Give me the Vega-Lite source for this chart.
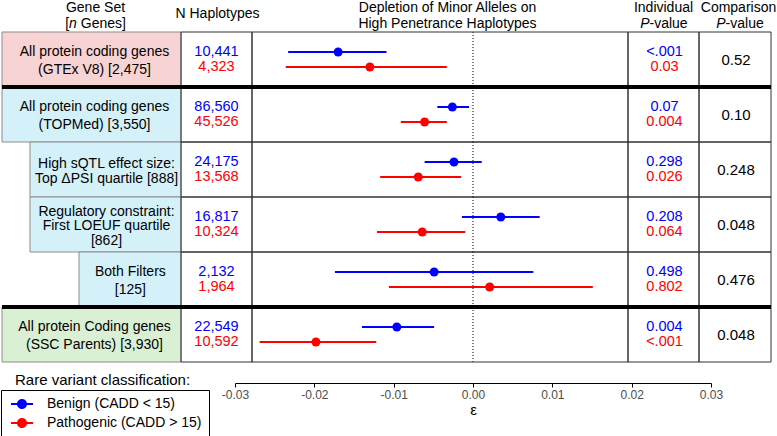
{
  "$schema": "https://vega.github.io/schema/vega-lite/v6.json",
  "width": 777,
  "height": 436,
  "autosize": "none",
  "padding": 0,
  "background": "white",
  "config": {"view": {"stroke": null}, "font": "Liberation Sans"},
  "title": {"text": "Rare variant classification:", "orient": "bottom", "anchor": "start", "frame": "group", "offset": -58, "dx": 15, "baseline": "middle", "fontSize": 15, "fontWeight": "normal", "color": "black", "font": "Liberation Sans"},
  "datasets": {
    "rows": [
      {"set": "GTEx", "label": "All protein coding genes\n(GTEx V8) [2,475]", "level": 0, "cohort": "GTEx", "pcomp": "0.52"},
      {"set": "TOPMed", "label": "All protein coding genes\n(TOPMed) [3,550]", "level": 0, "cohort": "TOPMed", "pcomp": "0.10"},
      {"set": "sQTL", "label": "High sQTL effect size:\nTop ΔPSI quartile [888]", "level": 1, "cohort": "TOPMed", "pcomp": "0.248"},
      {"set": "LOEUF", "label": "Regulatory constraint:\nFirst LOEUF quartile\n[862]", "level": 1, "cohort": "TOPMed", "pcomp": "0.048"},
      {"set": "Both", "label": "Both Filters\n[125]", "level": 2, "cohort": "TOPMed", "pcomp": "0.476"},
      {"set": "SSC", "label": "All protein Coding genes\n(SSC Parents) [3,930]", "level": 0, "cohort": "SSC", "pcomp": "0.048"}
    ],
    "est": [
      {"set": "GTEx", "series": "Benign (CADD < 15)", "est": -0.0170, "lo": -0.0233, "hi": -0.0109, "n": "10,441", "p": "<.001"},
      {"set": "GTEx", "series": "Pathogenic (CADD > 15)", "est": -0.0130, "lo": -0.0236, "hi": -0.0033, "n": "4,323", "p": "0.03"},
      {"set": "TOPMed", "series": "Benign (CADD < 15)", "est": -0.0026, "lo": -0.0045, "hi": -0.0005, "n": "86,560", "p": "0.07"},
      {"set": "TOPMed", "series": "Pathogenic (CADD > 15)", "est": -0.0061, "lo": -0.0091, "hi": -0.0033, "n": "45,526", "p": "0.004"},
      {"set": "sQTL", "series": "Benign (CADD < 15)", "est": -0.0024, "lo": -0.0061, "hi": 0.0011, "n": "24,175", "p": "0.298"},
      {"set": "sQTL", "series": "Pathogenic (CADD > 15)", "est": -0.0069, "lo": -0.0117, "hi": -0.0015, "n": "13,568", "p": "0.026"},
      {"set": "LOEUF", "series": "Benign (CADD < 15)", "est": 0.0035, "lo": -0.0014, "hi": 0.0084, "n": "16,817", "p": "0.208"},
      {"set": "LOEUF", "series": "Pathogenic (CADD > 15)", "est": -0.0064, "lo": -0.0121, "hi": -0.0010, "n": "10,324", "p": "0.064"},
      {"set": "Both", "series": "Benign (CADD < 15)", "est": -0.0049, "lo": -0.0174, "hi": 0.0076, "n": "2,132", "p": "0.498"},
      {"set": "Both", "series": "Pathogenic (CADD > 15)", "est": 0.0021, "lo": -0.0106, "hi": 0.0151, "n": "1,964", "p": "0.802"},
      {"set": "SSC", "series": "Benign (CADD < 15)", "est": -0.0096, "lo": -0.0140, "hi": -0.0049, "n": "22,549", "p": "0.004"},
      {"set": "SSC", "series": "Pathogenic (CADD > 15)", "est": -0.0198, "lo": -0.0269, "hi": -0.0122, "n": "10,592", "p": "<.001"}
    ],
    "headers": [
      {"id": "gene1", "line": "l1", "text": "Gene Set"},
      {"id": "gene2a", "line": "l2", "text": "["},
      {"id": "gene2b", "line": "l2", "text": "n"},
      {"id": "gene2c", "line": "l2", "text": "Genes]"},
      {"id": "nhap", "line": "mid", "text": "N Haplotypes"},
      {"id": "dep1", "line": "l1", "text": "Depletion of Minor Alleles on"},
      {"id": "dep2", "line": "l2", "text": "High Penetrance Haplotypes"},
      {"id": "ind1", "line": "l1", "text": "Individual"},
      {"id": "ind2a", "line": "l2", "text": "P"},
      {"id": "ind2b", "line": "l2", "text": "-value"},
      {"id": "cmp1", "line": "l1", "text": "Comparison"},
      {"id": "cmp2a", "line": "l2", "text": "P"},
      {"id": "cmp2b", "line": "l2", "text": "-value"}
    ]
  },
  "layer": [
    {
      "layer": [
        {
          "data": {"name": "rows"},
          "mark": {"type": "rule", "color": "black", "strokeWidth": 1, "strokeDash": [1, 2]},
          "encoding": {
            "x": {"datum": 0, "scale": {"domain": [-0.03, 0.03], "range": [235, 711], "nice": false, "zero": false},
              "axis": {"title": "ε", "orient": "bottom", "offset": -53, "values": [-0.03, -0.02, -0.01, 0, 0.01, 0.02, 0.03], "labelExpr": "datum.value < 0 ? '-' + format(-datum.value, '.2f') : format(datum.value, '.2f')", "grid": false, "domainColor": "black", "domainWidth": 1, "tickColor": "black", "tickSize": 4, "labelColor": "#4d4d4d", "labelFontSize": 12, "labelFont": "Liberation Sans", "labelPadding": 2, "labelFlush": false, "labelOverlap": false, "titleFontSize": 15, "titleFontWeight": "normal", "titleColor": "black", "titleFont": "Liberation Sans", "titlePadding": 2}},
            "y": {"field": "set", "type": "nominal", "bandPosition": 0, "scale": {"domain": ["GTEx", "TOPMed", "sQTL", "LOEUF", "Both", "SSC"], "range": [32, 362], "paddingInner": 0, "paddingOuter": 0}, "axis": null},
            "y2": {"field": "set", "bandPosition": 1}
          }
        },
        {
          "data": {"name": "est"},
          "mark": {"type": "rule", "strokeWidth": 2},
          "encoding": {
            "x": {"field": "lo", "type": "quantitative", "title": "ε",
              "axis": {"title": "ε", "orient": "bottom", "offset": -53, "values": [-0.03, -0.02, -0.01, 0, 0.01, 0.02, 0.03], "labelExpr": "datum.value < 0 ? '-' + format(-datum.value, '.2f') : format(datum.value, '.2f')", "grid": false, "domainColor": "black", "domainWidth": 1, "tickColor": "black", "tickSize": 4, "labelColor": "#4d4d4d", "labelFontSize": 12, "labelFont": "Liberation Sans", "labelPadding": 2, "labelFlush": false, "labelOverlap": false, "titleFontSize": 15, "titleFontWeight": "normal", "titleColor": "black", "titleFont": "Liberation Sans", "titlePadding": 2}},
            "x2": {"field": "hi"},
            "y": {"field": "set", "type": "nominal", "axis": null},
            "yOffset": {"field": "series", "type": "nominal", "scale": {"domain": ["Benign (CADD < 15)", "Pathogenic (CADD > 15)"], "paddingInner": 0, "paddingOuter": 0.8333}},
            "stroke": {"field": "series", "type": "nominal", "scale": {"domain": ["Benign (CADD < 15)", "Pathogenic (CADD > 15)"], "range": ["#0000ff", "#ff0000"]},
              "legend": {"orient": "none", "legendX": 1, "legendY": 390, "title": null, "strokeColor": "black", "fillColor": "white", "padding": 7, "labelFontSize": 14, "labelFont": "Liberation Sans", "labelColor": "black", "symbolType": "M-1.6,-0.15H1.6V0.15H-1.6Z M-0.73,0A0.73,0.73,0,1,1,0.73,0A0.73,0.73,0,1,1,-0.73,0Z", "symbolSize": 189, "symbolStrokeWidth": 0, "symbolOffset": 7, "labelOffset": 18, "rowPadding": 5}}
          }
        },
        {
          "data": {"name": "est"},
          "mark": {"type": "point", "filled": true, "size": 80, "strokeWidth": 0, "opacity": 1},
          "encoding": {
            "x": {"field": "est", "type": "quantitative", "title": "ε",
              "axis": {"title": "ε", "orient": "bottom", "offset": -53, "values": [-0.03, -0.02, -0.01, 0, 0.01, 0.02, 0.03], "labelExpr": "datum.value < 0 ? '-' + format(-datum.value, '.2f') : format(datum.value, '.2f')", "grid": false, "domainColor": "black", "domainWidth": 1, "tickColor": "black", "tickSize": 4, "labelColor": "#4d4d4d", "labelFontSize": 12, "labelFont": "Liberation Sans", "labelPadding": 2, "labelFlush": false, "labelOverlap": false, "titleFontSize": 15, "titleFontWeight": "normal", "titleColor": "black", "titleFont": "Liberation Sans", "titlePadding": 2}},
            "y": {"field": "set", "type": "nominal", "axis": null},
            "yOffset": {"field": "series", "type": "nominal"},
            "fill": {"field": "series", "type": "nominal", "scale": {"domain": ["Benign (CADD < 15)", "Pathogenic (CADD > 15)"], "range": ["#0000ff", "#ff0000"]},
              "legend": {"orient": "none", "legendX": 1, "legendY": 390, "title": null, "strokeColor": "black", "fillColor": "white", "padding": 7, "labelFontSize": 14, "labelFont": "Liberation Sans", "labelColor": "black", "symbolType": "M-1.6,-0.15H1.6V0.15H-1.6Z M-0.73,0A0.73,0.73,0,1,1,0.73,0A0.73,0.73,0,1,1,-0.73,0Z", "symbolSize": 189, "symbolStrokeWidth": 0, "symbolOffset": 7, "labelOffset": 18, "rowPadding": 5}}
          }
        }
      ]
    },
    {
      "layer": [
        {
          "layer": [
            {
              "data": {"name": "rows"},
              "mark": {"type": "rect", "stroke": "#8c8c8c", "strokeWidth": 1},
              "encoding": {
                "x": {"field": "level", "type": "quantitative", "scale": {"domain": [0, 1, 2, 3, 4, 5, 6, 7], "range": [2, 30, 79, 181, 252, 628, 699, 771], "nice": false, "zero": false}, "axis": null},
                "x2": {"datum": 3},
                "y": {"field": "set", "type": "nominal", "scale": {"domain": ["GTEx", "TOPMed", "sQTL", "LOEUF", "Both", "SSC"], "range": [32, 362], "paddingInner": 0, "paddingOuter": 0}, "axis": null},
                "color": {"field": "cohort", "type": "nominal", "scale": {"domain": ["GTEx", "TOPMed", "SSC"], "range": ["#f8d3d3", "#d4f1fa", "#d9f0d4"]}, "legend": null}
              }
            },
            {
              "data": {"name": "rows"},
              "mark": {"type": "rect", "fillOpacity": 0, "stroke": "#333333", "strokeWidth": 1},
              "encoding": {"x": {"datum": 3, "axis": null}, "x2": {"datum": 4}, "y": {"field": "set", "type": "nominal", "axis": null}}
            },
            {
              "data": {"name": "rows"},
              "mark": {"type": "rect", "fillOpacity": 0, "stroke": "#333333", "strokeWidth": 1},
              "encoding": {"x": {"datum": 4, "axis": null}, "x2": {"datum": 5}, "y": {"field": "set", "type": "nominal", "axis": null}}
            },
            {
              "data": {"name": "rows"},
              "mark": {"type": "rect", "fillOpacity": 0, "stroke": "#333333", "strokeWidth": 1},
              "encoding": {"x": {"datum": 5, "axis": null}, "x2": {"datum": 6}, "y": {"field": "set", "type": "nominal", "axis": null}}
            },
            {
              "data": {"name": "rows"},
              "mark": {"type": "rect", "fillOpacity": 0, "stroke": "#333333", "strokeWidth": 1},
              "encoding": {"x": {"datum": 6, "axis": null}, "x2": {"datum": 7}, "y": {"field": "set", "type": "nominal", "axis": null}}
            },
            {
              "data": {"name": "rows"},
              "transform": [{"filter": {"field": "set", "oneOf": ["TOPMed", "SSC"]}}],
              "mark": {"type": "rule", "color": "black", "strokeWidth": 4},
              "encoding": {"x": {"datum": 0, "axis": null}, "x2": {"datum": 7}, "y": {"field": "set", "type": "nominal", "bandPosition": 0, "axis": null}}
            },
            {
              "data": {"name": "est"},
              "mark": {"type": "text", "fontSize": 14.5},
              "encoding": {
                "x": {"datum": 3.5, "axis": null},
                "y": {"field": "set", "type": "nominal", "axis": null},
                "yOffset": {"field": "series", "type": "nominal"},
                "text": {"field": "n"},
                "fill": {"field": "series", "type": "nominal",
                  "legend": {"orient": "none", "legendX": 1, "legendY": 390, "title": null, "strokeColor": "black", "fillColor": "white", "padding": 7, "labelFontSize": 14, "labelFont": "Liberation Sans", "labelColor": "black", "symbolType": "M-1.6,-0.15H1.6V0.15H-1.6Z M-0.73,0A0.73,0.73,0,1,1,0.73,0A0.73,0.73,0,1,1,-0.73,0Z", "symbolSize": 189, "symbolStrokeWidth": 0, "symbolOffset": 7, "labelOffset": 18, "rowPadding": 5}}
              }
            },
            {
              "data": {"name": "est"},
              "mark": {"type": "text", "fontSize": 14.5, "dx": 1},
              "encoding": {
                "x": {"datum": 5.5, "axis": null},
                "y": {"field": "set", "type": "nominal", "axis": null},
                "yOffset": {"field": "series", "type": "nominal"},
                "text": {"field": "p"},
                "fill": {"field": "series", "type": "nominal",
                  "legend": {"orient": "none", "legendX": 1, "legendY": 390, "title": null, "strokeColor": "black", "fillColor": "white", "padding": 7, "labelFontSize": 14, "labelFont": "Liberation Sans", "labelColor": "black", "symbolType": "M-1.6,-0.15H1.6V0.15H-1.6Z M-0.73,0A0.73,0.73,0,1,1,0.73,0A0.73,0.73,0,1,1,-0.73,0Z", "symbolSize": 189, "symbolStrokeWidth": 0, "symbolOffset": 7, "labelOffset": 18, "rowPadding": 5}}
              }
            },
            {
              "data": {"name": "rows"},
              "mark": {"type": "text", "fontSize": 15, "dx": 1, "color": "black"},
              "encoding": {
                "x": {"datum": 6.5, "axis": null},
                "y": {"field": "set", "type": "nominal", "axis": null},
                "text": {"field": "pcomp"}
              }
            }
          ]
        },
        {
          "data": {"name": "headers"},
          "encoding": {
            "y": {"field": "line", "type": "nominal", "scale": {"domain": ["l1", "mid", "l2"], "range": [3.4, 28.1], "paddingInner": 0, "paddingOuter": 0}, "axis": null},
            "text": {"field": "text"}
          },
          "layer": [
            {"transform": [{"filter": {"field": "id", "equal": "nhap"}}], "mark": {"type": "text", "fontSize": 14, "dx": 1, "dy": -1.5, "color": "black"}, "encoding": {"x": {"datum": 3.5, "axis": null}}},
            {"transform": [{"filter": {"field": "id", "oneOf": ["dep1", "dep2"]}}], "mark": {"type": "text", "fontSize": 14, "dx": 7.5, "color": "black"}, "encoding": {"x": {"datum": 4.5, "axis": null}}},
            {"transform": [{"filter": {"field": "id", "equal": "ind1"}}], "mark": {"type": "text", "fontSize": 14, "color": "black"}, "encoding": {"x": {"datum": 5.5, "axis": null}}},
            {"transform": [{"filter": {"field": "id", "equal": "ind2a"}}], "mark": {"type": "text", "fontSize": 14, "fontStyle": "italic", "align": "right", "dx": -14, "color": "black"}, "encoding": {"x": {"datum": 5.5, "axis": null}}},
            {"transform": [{"filter": {"field": "id", "equal": "ind2b"}}], "mark": {"type": "text", "fontSize": 14, "align": "left", "dx": -14, "color": "black"}, "encoding": {"x": {"datum": 5.5, "axis": null}}},
            {"transform": [{"filter": {"field": "id", "equal": "cmp1"}}], "mark": {"type": "text", "fontSize": 14, "dx": 3.5, "color": "black"}, "encoding": {"x": {"datum": 6.5, "axis": null}}},
            {"transform": [{"filter": {"field": "id", "equal": "cmp2a"}}], "mark": {"type": "text", "fontSize": 14, "fontStyle": "italic", "align": "right", "dx": -9.4, "color": "black"}, "encoding": {"x": {"datum": 6.5, "axis": null}}},
            {"transform": [{"filter": {"field": "id", "equal": "cmp2b"}}], "mark": {"type": "text", "fontSize": 14, "align": "left", "dx": -9.4, "color": "black"}, "encoding": {"x": {"datum": 6.5, "axis": null}}}
          ]
        }
      ],
      "resolve": {"scale": {"y": "independent"}}
    },
    {
      "layer": [
        {
          "data": {"name": "rows"},
          "encoding": {
            "x": {"field": "level", "type": "quantitative", "scale": {"domain": [0, 1, 2], "range": [94.5, 106.5, 130.4], "nice": false, "zero": false}, "axis": null},
            "y": {"field": "set", "type": "nominal", "scale": {"domain": ["GTEx", "TOPMed", "sQTL", "LOEUF", "Both", "SSC"], "range": [32, 362], "paddingInner": 0, "paddingOuter": 0}, "axis": null},
            "text": {"field": "label"}
          },
          "layer": [
            {"transform": [{"filter": {"field": "set", "oneOf": ["GTEx", "TOPMed", "Both", "SSC"]}}], "mark": {"type": "text", "fontSize": 14, "lineBreak": "\n", "lineHeight": 17.5, "dy": -7.25, "color": "black"}},
            {"transform": [{"filter": {"field": "set", "equal": "sQTL"}}], "mark": {"type": "text", "fontSize": 14, "lineBreak": "\n", "lineHeight": 15, "dy": -5.5, "color": "black"}},
            {"transform": [{"filter": {"field": "set", "equal": "LOEUF"}}], "mark": {"type": "text", "fontSize": 14, "lineBreak": "\n", "lineHeight": 14.6, "dy": -13, "color": "black"}}
          ]
        },
        {
          "data": {"name": "headers"},
          "encoding": {
            "y": {"field": "line", "type": "nominal", "scale": {"domain": ["l1", "mid", "l2"], "range": [3.4, 28.1], "paddingInner": 0, "paddingOuter": 0}, "axis": null},
            "text": {"field": "text"}
          },
          "layer": [
            {"transform": [{"filter": {"field": "id", "equal": "gene1"}}], "mark": {"type": "text", "fontSize": 14, "dx": 1, "color": "black"}, "encoding": {"x": {"datum": 0, "axis": null}}},
            {"transform": [{"filter": {"field": "id", "equal": "gene2a"}}], "mark": {"type": "text", "fontSize": 14, "align": "right", "dx": -25.45, "color": "black"}, "encoding": {"x": {"datum": 0, "axis": null}}},
            {"transform": [{"filter": {"field": "id", "equal": "gene2b"}}], "mark": {"type": "text", "fontSize": 14, "fontStyle": "italic", "align": "left", "dx": -25.45, "color": "black"}, "encoding": {"x": {"datum": 0, "axis": null}}},
            {"transform": [{"filter": {"field": "id", "equal": "gene2c"}}], "mark": {"type": "text", "fontSize": 14, "align": "left", "dx": -13.75, "color": "black"}, "encoding": {"x": {"datum": 0, "axis": null}}}
          ]
        }
      ],
      "resolve": {"scale": {"y": "independent"}}
    }
  ],
  "resolve": {"scale": {"x": "independent", "y": "independent"}}
}
